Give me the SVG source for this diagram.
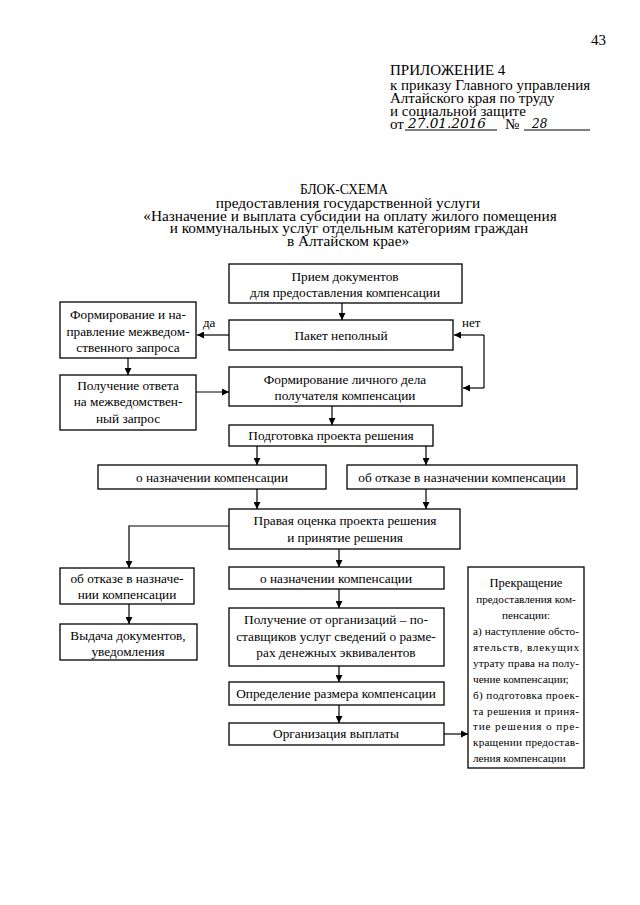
<svg xmlns="http://www.w3.org/2000/svg" width="640" height="905" viewBox="0 0 640 905">
<defs>
<marker id="ah" viewBox="0 0 10 10" refX="10" refY="5" markerWidth="7" markerHeight="7" markerUnits="userSpaceOnUse" orient="auto">
<path d="M0,0 L10,5 L0,10 z" fill="#000"/>
</marker>
<style>
text{font-family:"Liberation Serif","Times New Roman",serif;fill:#000}
.h{font-size:15px}
.t{font-size:15.3px;text-anchor:middle}
.b{font-size:13.3px;text-anchor:middle}
.l{font-size:13px}
.r{font-size:11.2px}
.rc{font-size:11.2px;text-anchor:middle}
rect{fill:#fff;stroke:#000;stroke-width:1.3}
.c path{fill:none;stroke:#000;stroke-width:1.2}
.hw{font-family:"DejaVu Serif",serif;font-style:italic;font-size:12px}
</style>
</defs>
<rect x="0" y="0" width="640" height="905" style="fill:#fff;stroke:none"/>
<g id="header">
<text class="h" x="591" y="45">43</text>
<text class="h" x="390" y="75">ПРИЛОЖЕНИЕ 4</text>
<text class="h" x="390" y="90">к приказу Главного управления</text>
<text class="h" x="390" y="103">Алтайского края по труду</text>
<text class="h" x="390" y="116">и социальной защите</text>
<text class="h" x="390" y="129">от</text>
<text class="hw" x="408" y="128" textLength="78" lengthAdjust="spacingAndGlyphs">27.01.2016</text>
<text class="h" x="505" y="129">№</text>
<text class="hw" x="532" y="128">28</text>
<line x1="405" y1="130" x2="497" y2="130" stroke="#000" stroke-width="1"/>
<line x1="524" y1="130" x2="590" y2="130" stroke="#000" stroke-width="1"/>
</g>
<g id="title">
<text class="t" x="344" y="194" style="font-size:14.5px" textLength="88" lengthAdjust="spacingAndGlyphs">БЛОК-СХЕМА</text>
<text class="t" x="348" y="208">предоставления государственной услуги</text>
<text class="t" x="350" y="221">«Назначение и выплата субсидии на оплату жилого помещения</text>
<text class="t" x="349" y="233">и коммунальных услуг отдельным категориям граждан</text>
<text class="t" x="348" y="246">в Алтайском крае»</text>
</g>
<g class="c" id="connectors">
<path d="M342,303 V320" marker-end="url(#ah)"/>
<path d="M229,335 H197" marker-end="url(#ah)"/>
<path d="M484,335 V388"/>
<path d="M484,335 H454" marker-end="url(#ah)"/>
<path d="M484,388 H463" marker-end="url(#ah)"/>
<path d="M128,358 V375" marker-end="url(#ah)"/>
<path d="M196,392 H229" marker-end="url(#ah)"/>
<path d="M332,406 V425" marker-end="url(#ah)"/>
<path d="M257,446 V465" marker-end="url(#ah)"/>
<path d="M426,446 V465" marker-end="url(#ah)"/>
<path d="M257,489 V509" marker-end="url(#ah)"/>
<path d="M426,489 V509" marker-end="url(#ah)"/>
<path d="M229,526 H129 V568" marker-end="url(#ah)"/>
<path d="M339,549 V567" marker-end="url(#ah)"/>
<path d="M129,604 V624" marker-end="url(#ah)"/>
<path d="M339,589 V608" marker-end="url(#ah)"/>
<path d="M339,666 V682" marker-end="url(#ah)"/>
<path d="M339,705 V723" marker-end="url(#ah)"/>
<path d="M444,734 H468" marker-end="url(#ah)"/>
<text class="l" x="203" y="327">да</text>
<text class="l" x="462" y="327">нет</text>
</g>
<g id="n1"><rect x="229" y="264" width="233" height="39"/>
<text class="b" x="345" y="281">Прием документов</text>
<text class="b" x="345" y="297">для предоставления компенсации</text></g>
<g id="n2"><rect x="229" y="320" width="224" height="30"/>
<text class="b" x="341" y="340">Пакет неполный</text></g>
<g id="n3"><rect x="60" y="302" width="136" height="56"/>
<text class="b" x="128" y="319">Формирование и на-</text>
<text class="b" x="128" y="336">правление межведом-</text>
<text class="b" x="128" y="352">ственного запроса</text></g>
<g id="n4"><rect x="60" y="375" width="136" height="55"/>
<text class="b" x="128" y="390">Получение ответа</text>
<text class="b" x="128" y="406">на межведомствен-</text>
<text class="b" x="128" y="423">ный запрос</text></g>
<g id="n5"><rect x="229" y="367" width="233" height="39"/>
<text class="b" x="345" y="384">Формирование личного дела</text>
<text class="b" x="345" y="400">получателя компенсации</text></g>
<g id="n6"><rect x="229" y="425" width="204" height="21"/>
<text class="b" x="331" y="440">Подготовка проекта решения</text></g>
<g id="n7"><rect x="98" y="465" width="228" height="24"/>
<text class="b" x="212" y="482">о назначении компенсации</text></g>
<g id="n8"><rect x="347" y="465" width="230" height="24"/>
<text class="b" x="462" y="482">об отказе в назначении компенсации</text></g>
<g id="n9"><rect x="229" y="509" width="231" height="40"/>
<text class="b" x="345" y="525">Правая оценка проекта решения</text>
<text class="b" x="345" y="542">и принятие решения</text></g>
<g id="n10"><rect x="60" y="568" width="134" height="36"/>
<text class="b" x="127" y="583">об отказе в назначе-</text>
<text class="b" x="127" y="599">нии компенсации</text></g>
<g id="n11"><rect x="229" y="567" width="215" height="22"/>
<text class="b" x="336" y="583">о назначении компенсации</text></g>
<g id="n12"><rect x="60" y="624" width="137" height="36"/>
<text class="b" x="128" y="640">Выдача документов,</text>
<text class="b" x="128" y="656">уведомления</text></g>
<g id="n13"><rect x="229" y="608" width="215" height="58"/>
<text class="b" x="336" y="624">Получение от организаций – по-</text>
<text class="b" x="336" y="641">ставщиков услуг сведений о разме-</text>
<text class="b" x="336" y="657">рах денежных эквивалентов</text></g>
<g id="n14"><rect x="229" y="682" width="215" height="23"/>
<text class="b" x="336" y="698">Определение размера компенсации</text></g>
<g id="n15"><rect x="229" y="723" width="215" height="22"/>
<text class="b" x="336" y="738">Организация выплаты</text></g>
<g id="n16"><rect x="468" y="567" width="116" height="201"/>
<text class="rc" x="526" y="587" style="font-size:12.5px">Прекращение</text>
<text class="rc" x="526" y="603">предоставления ком-</text>
<text class="rc" x="526" y="619">пенсации:</text>
<text class="r" x="473" y="635" textLength="106" lengthAdjust="spacing">а) наступление обсто-</text>
<text class="r" x="473" y="651" textLength="106" lengthAdjust="spacing">ятельств, влекущих</text>
<text class="r" x="473" y="667" textLength="106" lengthAdjust="spacing">утрату права на полу-</text>
<text class="r" x="473" y="683">чение компенсации;</text>
<text class="r" x="473" y="699" textLength="106" lengthAdjust="spacing">б) подготовка проек-</text>
<text class="r" x="473" y="715" textLength="106" lengthAdjust="spacing">та решения и приня-</text>
<text class="r" x="473" y="730" textLength="106" lengthAdjust="spacing">тие решения о пре-</text>
<text class="r" x="473" y="746" textLength="106" lengthAdjust="spacing">кращении предостав-</text>
<text class="r" x="473" y="762">ления компенсации</text></g>
</svg>
